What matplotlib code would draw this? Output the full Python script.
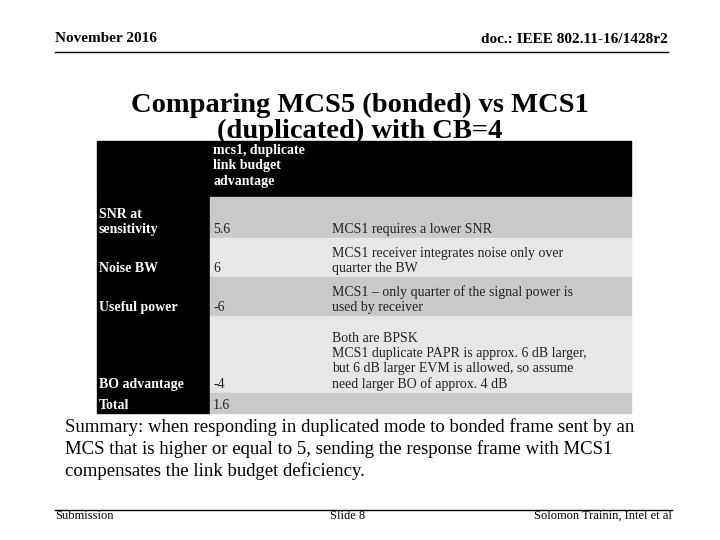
import matplotlib
matplotlib.use("Agg")
import matplotlib.pyplot as plt
from matplotlib.patches import Rectangle

plt.rcParams["font.family"] = ["Liberation Serif", "DejaVu Serif"]

# table content
header = ["", "mcs1, duplicate\nlink budget\nadvantage", ""]
row_labels = ["SNR at\nsensitivity", "Noise BW", "Useful power", "BO advantage", "Total"]
row_values = ["5.6", "6", "-6", "-4", "1.6"]
row_notes = [
    "MCS1 requires a lower SNR",
    "MCS1 receiver integrates noise only over\nquarter the BW",
    "MCS1 \u2013 only quarter of the signal power is\nused by receiver",
    "Both are BPSK\nMCS1 duplicate PAPR is approx. 6 dB larger,\nbut 6 dB larger EVM is allowed, so assume\nneed larger BO of approx. 4 dB",
    "",
]
summary = ("Summary: when responding in duplicated mode to bonded frame sent by an\n"
           "MCS that is higher or equal to 5, sending the response frame with MCS1\n"
           "compensates the link budget deficiency.")

# layout in pixels
col_x = [97, 210, 329, 632]
row_y = [141, 197, 238, 277, 316, 393, 414]
shades = ["#c9c9c9", "#e7e7e7"]

fig = plt.figure(figsize=(7.2, 5.4), dpi=100)
ax = fig.add_axes([0, 0, 1, 1])
ax.set_xlim(0, 720)
ax.set_ylim(540, 0)
ax.axis("off")

# slide header / footer
ax.text(55, 45, "November 2016", fontsize=11, fontweight="bold", va="bottom")
ax.text(668, 46, "doc.: IEEE 802.11-16/1428r2", fontsize=11, fontweight="bold",
        va="bottom", ha="right")
ax.plot([55, 668], [52, 52], color="black", lw=1)
ax.text(360, 118, "Comparing MCS5 (bonded) vs MCS1\n(duplicated) with CB=4",
        fontsize=20.5, fontweight="bold", ha="center", va="center", linespacing=1.05)
ax.plot([55, 672], [510, 510], color="black", lw=1)
ax.text(55, 522, "Submission", fontsize=9, va="bottom")
ax.text(330, 522, "Slide 8", fontsize=9, va="bottom")
ax.text(672, 522, "Solomon Trainin, Intel et al", fontsize=9, va="bottom", ha="right")

gap = 1.5
# header row
for c in range(3):
    ax.add_patch(Rectangle((col_x[c], row_y[0]), col_x[c + 1] - col_x[c] - gap,
                           row_y[1] - row_y[0] - gap, color="black"))
ax.text(col_x[1] + 3, row_y[0] + 3, header[1], color="white", fontsize=10,
        fontweight="bold", va="top", linespacing=1.25)

# body rows
for r in range(len(row_labels)):
    y0, y1 = row_y[r + 1], row_y[r + 2]
    h = y1 - y0 - gap
    ax.add_patch(Rectangle((col_x[0], y0), col_x[1] - col_x[0] - gap, h, color="black"))
    for c in (1, 2):
        ax.add_patch(Rectangle((col_x[c], y0), col_x[c + 1] - col_x[c] - gap, h,
                               color=shades[r % 2]))
    ax.text(col_x[0] + 2, y1 - 2, row_labels[r], color="white", fontsize=10,
            fontweight="bold", va="bottom", linespacing=1.2)
    ax.text(col_x[1] + 3, y1 - 2, row_values[r], color="#222222", fontsize=10,
            va="bottom")
    ax.text(col_x[2] + 3, y1 - 2, row_notes[r], color="#222222", fontsize=10,
            va="bottom", linespacing=1.2)

ax.text(65, 418, summary, fontsize=13.5, va="top", linespacing=1.3)

fig.savefig("out.png", dpi=100)
